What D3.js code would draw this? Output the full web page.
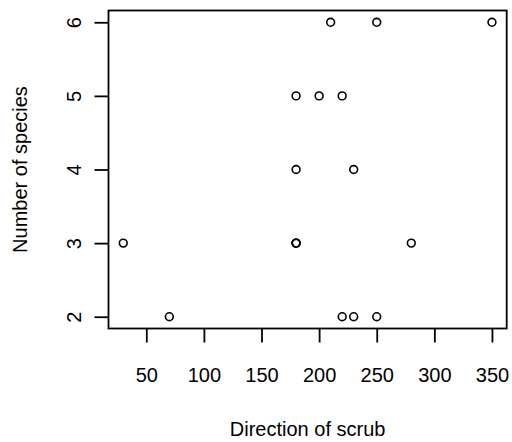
<!DOCTYPE html>
<html>
<head>
<meta charset="utf-8">
<script src="https://cdn.jsdelivr.net/npm/d3@7"></script>
<style>
  html, body { margin: 0; padding: 0; background: #fff; }
  svg { display: block; }
  text { font-family: "Liberation Sans", Arial, sans-serif; fill: #000; }
</style>
</head>
<body>
<svg id="chart" width="512" height="442"></svg>
<script>
// Survey observations: scrub direction (degrees) and species count
const direction = [30, 70, 210, 250, 350, 180, 200, 220, 180, 230, 180, 180, 180, 280, 220, 230, 250];
const species   = [3,  2,  6,   6,   6,   5,   5,   5,   4,   4,   3,   3,   3,   3,   2,   2,   2];

const xTicks = [50, 100, 150, 200, 250, 300, 350];
const yTicks = [2, 3, 4, 5, 6];

const xTitle = "Direction of scrub";
const yTitle = "Number of species";

const svg = d3.select("#chart");
const box = { left: 108.5, right: 506.7, top: 10.5, bottom: 328.5 };
const fontSize = 20;

// Pad each data range by 4% on both sides
function padded(values) {
  const [lo, hi] = d3.extent(values);
  const pad = (hi - lo) * 0.04;
  return [lo - pad, hi + pad];
}

const x = d3.scaleLinear().domain(padded(direction)).range([box.left, box.right]);
const y = d3.scaleLinear().domain(padded(species)).range([box.bottom, box.top]);

// Bottom axis
const gx = svg.append("g")
  .attr("transform", `translate(0,${box.bottom})`)
  .call(d3.axisBottom(x).tickValues(xTicks).tickSize(14).tickSizeOuter(0).tickFormat(d3.format("d")));
gx.select(".domain").remove();
gx.selectAll(".tick line").attr("stroke", "#000").attr("stroke-width", 1.8);
gx.selectAll(".tick text")
  .attr("y", 53).attr("dy", 0)
  .attr("font-size", fontSize).attr("font-family", null);

// Left axis, labels parallel to the axis
const gy = svg.append("g")
  .attr("transform", `translate(${box.left},0)`)
  .call(d3.axisLeft(y).tickValues(yTicks).tickSize(14).tickSizeOuter(0).tickFormat(d3.format("d")));
gy.select(".domain").remove();
gy.selectAll(".tick line").attr("stroke", "#000").attr("stroke-width", 1.8);
gy.selectAll(".tick text")
  .attr("x", 0).attr("y", 0).attr("dy", 0)
  .attr("text-anchor", "middle")
  .attr("transform", "translate(-27.5,0) rotate(-90)")
  .attr("font-size", fontSize).attr("font-family", null);

// Plot frame
svg.append("rect")
  .attr("x", box.left).attr("y", box.top)
  .attr("width", box.right - box.left).attr("height", box.bottom - box.top)
  .attr("fill", "none").attr("stroke", "#000").attr("stroke-width", 1.8);

// Open-circle points
svg.append("g").selectAll("circle")
  .data(direction.map((d, i) => ({ dir: d, n: species[i] })))
  .join("circle")
  .attr("cx", d => x(d.dir))
  .attr("cy", d => y(d.n))
  .attr("r", 3.9)
  .attr("fill", "none")
  .attr("stroke", "#000")
  .attr("stroke-width", 1.6);

// Axis titles
svg.append("text")
  .attr("x", (box.left + box.right) / 2).attr("y", 436)
  .attr("text-anchor", "middle")
  .attr("font-size", fontSize)
  .text(xTitle);

svg.append("text")
  .attr("transform", `translate(26.7,${(box.top + box.bottom) / 2}) rotate(-90)`)
  .attr("text-anchor", "middle")
  .attr("font-size", fontSize)
  .text(yTitle);
</script>
</body>
</html>
